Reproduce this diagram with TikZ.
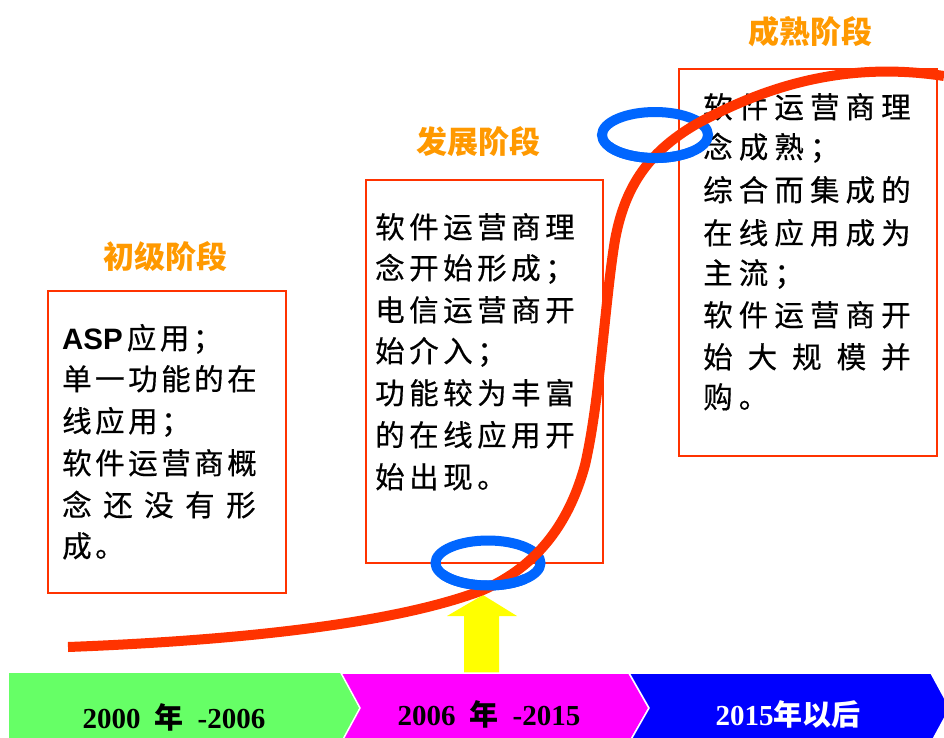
\documentclass[tikz,border=0pt]{standalone}
\usepackage{fontspec}
\usetikzlibrary{shapes.geometric}
\newfontfamily\cjk{Noto Sans CJK SC}
\newfontfamily\cjkbody[FakeBold=0.5]{Noto Sans CJK SC}
\newfontfamily\lsans{Liberation Sans}
\newfontfamily\lserif{Liberation Serif}
\definecolor{boxred}{RGB}{255,51,0}
\definecolor{curvered}{RGB}{255,51,0}
\definecolor{ringblue}{RGB}{0,102,255}
\definecolor{ttl}{RGB}{255,153,0}
\definecolor{bargreen}{RGB}{102,255,102}
\definecolor{barmag}{RGB}{255,0,255}
\definecolor{barblue}{RGB}{0,0,255}
\definecolor{arrowyellow}{RGB}{255,255,0}
\makeatletter
\newcommand\spc[2]{\@tfor\spcchar:=#2\do{\makebox[#1][l]{\spcchar}}}
\makeatother
\begin{document}
\begin{tikzpicture}[x=1pt,y=-1pt,
  redbox/.style={draw=boxred, line width=1.5pt, anchor=north west, inner sep=0pt},
  title/.style={text=ttl, font=\cjk\bfseries\fontsize{31}{31}\selectfont, inner sep=0pt},
  body/.style={anchor=base west, inner sep=0pt, font=\cjkbody\fontsize{29.5}{29.5}\selectfont},
  ring/.style={draw=ringblue, line width=10pt},
  ringnode/.style={ring, ellipse, inner sep=0pt},
  curve/.style={draw=curvered, line width=10pt},
  bar/.style={draw=white, line width=1.5pt},
  bartext/.style={anchor=base, inner sep=0pt, font=\lserif\bfseries\fontsize{29}{29}\selectfont}
]
\useasboundingbox (0,0) rectangle (944,737);
\fill[white] (0,0) rectangle (944,737);

% yellow arrow
\fill[arrowyellow] (464,680) -- (464,616) -- (447,616) -- (483,595) -- (517,616) -- (499,616) -- (499,680) -- cycle;

% timeline bars
\begin{scope}
\clip (0,0) rectangle (944,737);
\fill[bargreen] (9,673) -- (341,673) -- (360,708) -- (341,743) -- (9,743) -- cycle;
\filldraw[fill=barmag, bar] (341,673) -- (629,673) -- (649,708) -- (629,743) -- (341,743) -- (360,708) -- cycle;
\filldraw[fill=barblue, bar] (629,673) -- (931,673) -- (950,708) -- (931,743) -- (629,743) -- (649,708) -- cycle;
\end{scope}
\node[bartext] (y1) at (174,728) {2000\hspace{14pt}{\cjk\bfseries 年}\hspace{14pt}-2006};
\node[bartext] (y2) at (489,725) {2006\hspace{14pt}{\cjk\bfseries 年}\hspace{14pt}-2015};
\node[bartext, text=white] (y3) at (788,725) {2015{\cjk\bfseries 年以后}};

% boxes
\node[redbox, minimum width=238pt, minimum height=302pt] (b1) at (47,290) {};
\node[redbox, minimum width=237pt, minimum height=383pt] (b2) at (365,179) {};
\node[redbox, minimum width=258pt, minimum height=387pt] (b3) at (678,68) {};

% titles
\node[title] (t1) at (165,257) {初级阶段};
\node[title] (t2) at (478,142) {发展阶段};
\node[title] (t3) at (810,32) {成熟阶段};

% box 1 text
\node[body] (a1) at (62,349) {{\lsans\bfseries ASP}\hspace{4pt}\spc{33pt}{应用；}};
\node[body] (a2) at (62,390) {\spc{33pt}{单一功能的在}};
\node[body] (a3) at (62,432) {\spc{33pt}{线应用；}};
\node[body] (a4) at (62,474) {\spc{33pt}{软件运营商概}};
\node[body] (a5) at (62,516) {\spc{41pt}{念还没有形}};
\node[body] (a6) at (62,557) {\spc{33pt}{成。}};

% box 2 text
\node[body] (c1) at (375,238) {\spc{34pt}{软件运营商理}};
\node[body] (c2) at (375,279) {\spc{34pt}{念开始形成；}};
\node[body] (c3) at (375,321) {\spc{34pt}{电信运营商开}};
\node[body] (c4) at (375,362) {\spc{34pt}{始介入；}};
\node[body] (c5) at (375,404) {\spc{34pt}{功能较为丰富}};
\node[body] (c6) at (375,446) {\spc{34pt}{的在线应用开}};
\node[body] (c7) at (375,488) {\spc{34pt}{始出现。}};

% box 3 text
\node[body] (d1) at (703,118) {\spc{35.6pt}{软件运营商理}};
\node[body] (d2) at (703,158) {\spc{35.6pt}{念成熟；}};
\node[body] (d3) at (703,201) {\spc{35.6pt}{综合而集成的}};
\node[body] (d4) at (703,244) {\spc{35.6pt}{在线应用成为}};
\node[body] (d5) at (703,284) {\spc{35.6pt}{主流；}};
\node[body] (d6) at (703,326) {\spc{35.6pt}{软件运营商开}};
\node[body] (d7) at (703,368) {\spc{44.5pt}{始大规模并}};
\node[body] (d8) at (703,408) {\spc{35.6pt}{购。}};

% rings (under the curve)
\node[ringnode, minimum width=105pt, minimum height=45pt] (e1) at (488,563) {};
\node[ringnode, minimum width=106pt, minimum height=46pt] (e2) at (655,135) {};

% growth curve
\coordinate (p0) at (68,647);
\coordinate (p1) at (483,590);
\coordinate (p2) at (585,465);
\coordinate (p3) at (615,240);
\coordinate (p4) at (700,122);
\coordinate (p5) at (944,76);
\draw[curve] (p0) .. controls (250,640) and (400,622) .. (p1)
  .. controls (540,565) and (570,520) .. (p2)
  .. controls (600,400) and (605,300) .. (p3)
  .. controls (625,185) and (650,150) .. (p4)
  .. controls (760,90) and (840,60) .. (p5);

% front arcs of the rings (over the curve)
\draw[ring] (e1.center) ++(37.1,15.9) arc[start angle=45, end angle=150, x radius=52.5, y radius=22.5];
\draw[ring] (e2.center) ++(37.5,16.3) arc[start angle=45, end angle=150, x radius=53, y radius=23];
\end{tikzpicture}
\end{document}
